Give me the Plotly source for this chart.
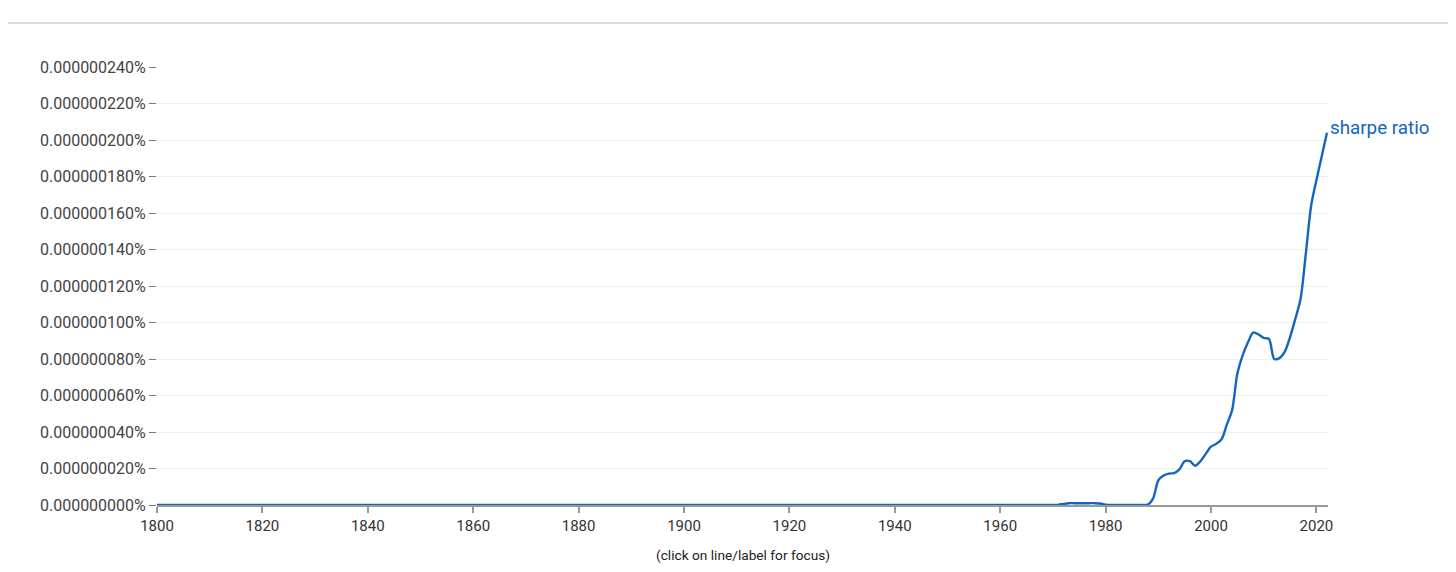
import plotly.graph_objects as go

# Data (percent values)
years = [1800, 1969, 1970, 1971, 1972, 1973, 1974, 1975, 1976, 1977, 1978, 1979, 1980, 1981,
         1985, 1986, 1987, 1988, 1989, 1990, 1991, 1992, 1993, 1994, 1995, 1996, 1997, 1998,
         1999, 2000, 2001, 2002, 2003, 2004, 2005, 2006, 2007, 2008, 2009, 2010, 2011, 2012,
         2013, 2014, 2015, 2016, 2017, 2018, 2019, 2020, 2021, 2022]
values_e8 = [0, 0, 0, 0.01, 0.06, 0.1, 0.1, 0.1, 0.1, 0.1, 0.1, 0.08, 0.02, 0,
             0, 0, 0, 0.02, 0.35, 1.35, 1.62, 1.72, 1.75, 1.95, 2.4, 2.4, 2.15, 2.4,
             2.8, 3.2, 3.35, 3.6, 4.4, 5.2, 7.2, 8.2, 8.9, 9.45, 9.35, 9.15, 9.1, 8.0,
             8.05, 8.4, 9.2, 10.2, 11.3, 13.8, 16.4, 17.8, 19.1, 20.4]
values = [v * 1e-8 for v in values_e8]
series_name = "sharpe ratio"
y_ticks = [i * 2e-8 for i in range(13)]
y_tick_labels = ["0.000000000%", "0.000000020%", "0.000000040%", "0.000000060%",
                 "0.000000080%", "0.000000100%", "0.000000120%", "0.000000140%",
                 "0.000000160%", "0.000000180%", "0.000000200%", "0.000000220%",
                 "0.000000240%"]
x_ticks = [1800, 1820, 1840, 1860, 1880, 1900, 1920, 1940, 1960, 1980, 2000, 2020]

line_color = "#1565c0"

fig = go.Figure()
fig.add_trace(go.Scatter(
    x=years, y=values, mode="lines", name=series_name,
    line=dict(color=line_color, width=2.4, shape="spline", smoothing=0.8),
    hoverinfo="skip", showlegend=False,
))

fig.add_annotation(
    x=years[-1], y=values[-1], text=series_name, showarrow=False,
    xanchor="left", yanchor="middle", xshift=1, yshift=5,
    font=dict(family="Roboto", size=18.8, color=line_color),
)

fig.add_annotation(
    x=0.5, y=-0.08, xref="paper", yref="paper",
    text="(click on line/label for focus)", showarrow=False,
    xanchor="center", yanchor="top", yshift=-5,
    font=dict(family="Roboto", size=13.7, color="#222"),
)

# page has an 8px body margin; figure coordinates are offset accordingly
plot_h = 497 - 59
fig.add_shape(type="line", xref="paper", yref="paper",
              x0=-0.2, x1=1.2, y0=(497 - 15) / plot_h, y1=(497 - 15) / plot_h,
              line=dict(color="#dcdcdc", width=2))

fig.update_layout(
    width=1448, height=564,
    margin=dict(l=149, r=128, t=59, b=67),
    paper_bgcolor="white", plot_bgcolor="white",
    font=dict(family="Roboto", size=15, color="#444"),
    xaxis=dict(
        range=[1800, 2022.2], tickvals=x_ticks, showgrid=False,
        showline=True, linecolor="#999", linewidth=1.5,
        ticks="outside", ticklen=6, tickcolor="#999", tickwidth=1.5,
        tickfont=dict(family="Roboto", size=15, color="#333"),
        zeroline=False, fixedrange=True,
    ),
    yaxis=dict(
        range=[0, 2.4e-7], tickvals=y_ticks, ticktext=y_tick_labels,
        showgrid=True, gridcolor="#efefef", gridwidth=1,
        ticks="outside", ticklen=7, tickcolor="#777", tickwidth=1,
        tickfont=dict(family="Roboto", size=16, color="#444"),
        showline=False, zeroline=False, fixedrange=True,
    ),
)

fig.write_html("out.html")
